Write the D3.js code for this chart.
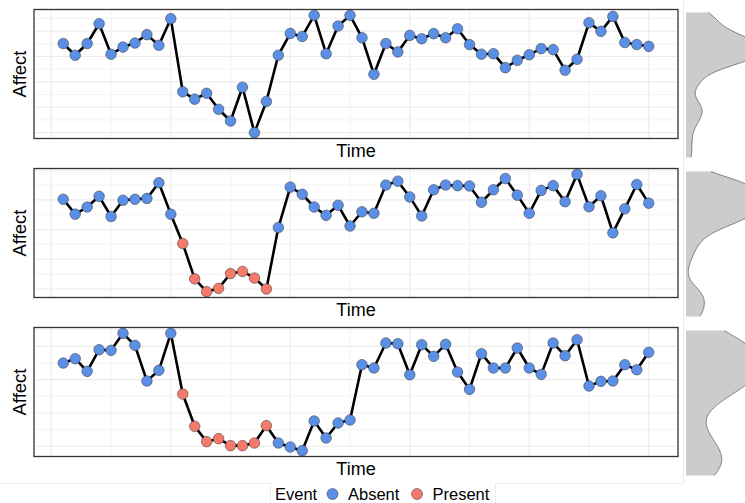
<!DOCTYPE html>
<html lang="en">
<head>
<meta charset="utf-8">
<title>Affect over time</title>
<script src="https://d3js.org/d3.v7.min.js"></script>
<style>
  body { margin: 0; background: #fff; }
  text { font-family: "Liberation Sans", Arial, sans-serif; fill: #000; }
</style>
</head>
<body>
<script>
// time points (same for all three series)
var time = [1,2,3,4,5,6,7,8,9,10,11,12,13,14,15,16,17,18,19,20,21,22,23,24,25,
            26,27,28,29,30,31,32,33,34,35,36,37,38,39,40,41,42,43,44,45,46,47,48,49,50];

var affect1 = [3.51,3.05,3.51,4.29,3.09,3.37,3.53,3.86,3.44,4.49,
               1.61,1.32,1.55,0.92,0.46,1.79,0.00,1.23,3.05,3.91,
               3.79,4.62,3.11,4.20,4.62,3.74,2.30,3.51,3.18,3.83,
               3.70,3.90,3.74,4.09,3.47,3.09,3.11,2.56,2.85,3.07,
               3.31,3.27,2.46,2.89,4.33,3.99,4.58,3.55,3.47,3.40];

var affect2 = [3.02,2.52,2.76,3.12,2.44,2.99,3.02,3.05,3.58,2.52,
               1.53,0.34,-0.09,0.02,0.52,0.59,0.37,0.00,2.07,3.43,
               3.19,2.76,2.48,2.82,2.12,2.60,2.55,3.50,3.63,3.10,
               2.46,3.34,3.50,3.48,3.47,2.92,3.34,3.72,3.16,2.55,
               3.32,3.48,2.94,3.86,2.77,3.14,1.89,2.70,3.52,2.89];

var affect3 = [2.50,2.63,2.25,2.90,2.88,3.39,3.03,1.96,2.28,3.39,
               1.57,0.60,0.14,0.23,0.02,0.02,0.10,0.62,0.10,-0.02,
               -0.13,0.76,0.25,0.70,0.79,2.45,2.35,3.10,3.08,2.15,
               3.05,2.70,3.06,2.23,1.71,2.78,2.35,2.35,2.95,2.35,
               2.16,3.10,2.72,3.20,1.81,1.95,1.96,2.45,2.30,2.82];

// time points where the event is present
var present1 = [];
var present2 = [11,12,13,14,15,16,17,18];
var present3 = [11,12,13,14,15,16,17,18];

var eventLevels = ["Absent", "Present"];
var eventColors = ["#5b8fe6", "#f47a6c"];

var W = 745, H = 503;
var left = 34, right = 678;
var panelH = 129;
var tops = [9.5, 168.5, 327.5];

var svg = d3.select("body").append("svg")
    .attr("width", W).attr("height", H);

// faint outline of the plot area + legend box
var frame = svg.append("g").attr("stroke", "#ececec").attr("fill", "none").attr("stroke-width", 1);
frame.append("path").attr("d", "M0,483.5H270.5V503M495.5,503V483.5H683.5V0");

function expand(ext) {
  var d = (ext[1] - ext[0]) * 0.05;
  return [ext[0] - d, ext[1] + d];
}

var color = d3.scaleOrdinal().domain(eventLevels).range(eventColors);

var x = d3.scaleLinear().domain(expand(d3.extent(time))).range([left, right]);

// gaussian kde with R's bw.nrd0
function kde(values) {
  var v = values.slice().sort(d3.ascending);
  var n = v.length;
  var sd = d3.deviation(v);
  var iqr = d3.quantile(v, 0.75) - d3.quantile(v, 0.25);
  var bw = 0.9 * Math.min(sd, iqr / 1.34) * Math.pow(n, -0.2);
  var ext = d3.extent(v);
  var grid = d3.range(512).map(function(i) { return ext[0] + (ext[1] - ext[0]) * i / 511; });
  return grid.map(function(g) {
    var s = 0;
    v.forEach(function(d) { var z = (g - d) / bw; s += Math.exp(-0.5 * z * z); });
    return {y: g, d: s / (n * bw * Math.sqrt(2 * Math.PI))};
  });
}

var series = [
  {values: affect1, present: present1},
  {values: affect2, present: present2},
  {values: affect3, present: present3}
];

series.forEach(function(s, k) {
  var top = tops[k], bottom = top + panelH;
  var data = time.map(function(t, i) {
    return {t: t, v: s.values[i], ev: s.present.indexOf(t) >= 0 ? "Present" : "Absent"};
  });

  var y = d3.scaleLinear().domain(expand(d3.extent(s.values))).range([bottom, top]);
  var g = svg.append("g");

  // grid
  var yd = y.domain();
  var yBreaks = d3.range(Math.ceil(yd[0] * 2) / 2, yd[1], 0.5);
  g.selectAll(".hgrid").data(yBreaks).enter().append("line")
    .attr("x1", left).attr("x2", right)
    .attr("y1", function(d) { return y(d); }).attr("y2", function(d) { return y(d); })
    .attr("stroke", "#ebebeb")
    .attr("stroke-width", function(d) { return d % 1 === 0 ? 1.1 : 0.6; });

  var xBreaks = d3.range(0, 55, 5);
  g.selectAll(".vgrid").data(xBreaks).enter().append("line")
    .attr("y1", top).attr("y2", bottom)
    .attr("x1", function(d) { return x(d); }).attr("x2", function(d) { return x(d); })
    .attr("stroke", "#ebebeb")
    .attr("stroke-width", function(d) { return d % 10 === 0 ? 1.1 : 0.6; });

  // line
  g.append("path").datum(data)
    .attr("fill", "none").attr("stroke", "#000").attr("stroke-width", 2.6)
    .attr("stroke-linejoin", "round")
    .attr("d", d3.line().x(function(d) { return x(d.t); }).y(function(d) { return y(d.v); }));

  // points
  g.selectAll("circle").data(data).enter().append("circle")
    .attr("cx", function(d) { return x(d.t); })
    .attr("cy", function(d) { return y(d.v); })
    .attr("r", 5.3)
    .attr("fill", function(d) { return color(d.ev); })
    .attr("stroke", "#333").attr("stroke-width", 0.5);

  // panel border
  g.append("rect").attr("x", left).attr("y", top)
    .attr("width", right - left).attr("height", panelH)
    .attr("fill", "none").attr("stroke", "#333").attr("stroke-width", 1.3);

  // axis titles
  g.append("text").attr("x", (left + right) / 2).attr("y", bottom + 18.5)
    .attr("text-anchor", "middle").style("font-size", "18px").text("Time");
  g.append("text")
    .attr("transform", "translate(26," + (top + panelH / 2) + ") rotate(-90)")
    .attr("text-anchor", "middle").style("font-size", "18.5px").text("Affect");

  // marginal density
  var dens = kde(s.values);
  var dy = d3.scaleLinear().domain(d3.extent(s.values)).range([top + 148, top + 3]);
  var dx = d3.scaleLinear().domain([0, d3.max(dens, function(d) { return d.d; })]).range([686, 761]);
  g.append("path").datum(dens)
    .attr("fill", "#cccccc")
    .attr("d", d3.area().y(function(d) { return dy(d.y); })
      .x0(686).x1(function(d) { return dx(d.d); }));
  g.append("path").datum(dens)
    .attr("fill", "none").attr("stroke", "#333").attr("stroke-width", 0.6)
    .attr("d", d3.line().y(function(d) { return dy(d.y); }).x(function(d) { return dx(d.d); }));
});

// legend
var lg = svg.append("g");
lg.append("text").attr("x", 275).attr("y", 499.5).style("font-size", "16.5px").text("Event");
var items = [{x: 332.5, label: "Absent"}, {x: 417, label: "Present"}];
items.forEach(function(it, i) {
  lg.append("circle").attr("cx", it.x).attr("cy", 494).attr("r", 5.5)
    .attr("fill", color(eventLevels[i])).attr("stroke", "#333").attr("stroke-width", 0.5);
  lg.append("text").attr("x", it.x + 15.5).attr("y", 499.5).style("font-size", "16.5px").text(eventLevels[i]);
});
</script>
</body>
</html>
